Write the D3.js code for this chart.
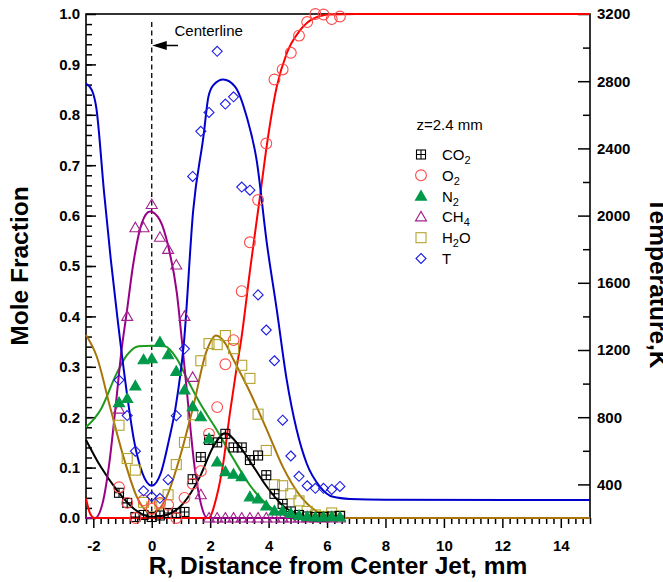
<!DOCTYPE html>
<html>
<head>
<meta charset="utf-8">
<script src="https://cdn.jsdelivr.net/npm/d3@7"></script>
<style>
body { margin: 0; background: #fff; }
svg { font-family: "Liberation Sans", Arial, sans-serif; }
.tick text { font-size: 15px; font-weight: bold; fill: #000; }
.tick line { stroke: #000; stroke-width: 1.5; }
.title { font-size: 24.5px; font-weight: bold; fill: #000; }
</style>
</head>
<body>
<svg id="chart" width="663" height="582"></svg>
<script>
// measured radial positions (mm)
var rPts = [-1.12, -0.84, -0.56, -0.28, 0, 0.28, 0.56, 0.84, 1.12, 1.40, 1.68, 1.96, 2.24, 2.52,
            2.80, 3.08, 3.36, 3.64, 3.92, 4.20, 4.48, 4.76, 5.04, 5.32, 5.60, 5.88, 6.16, 6.44];

// mole fractions
var co2 = [0.050, 0.030, 0.002, 0.006, 0.002, 0.005, 0.010, 0.010, 0.012, 0.077, 0.121, 0.155, 0.150, 0.167,
           0.140, 0.140, 0.115, 0.124, 0.085, 0.048, 0.028, 0.013, 0.006, 0.003, 0.002, 0.002, 0.003, 0.004];
var o2  = [0.061, 0.030, 0.000, 0.035, 0.018, 0.030, 0.026, 0.000, 0.040, 0.068, 0.093, 0.167, 0.220, 0.305,
           0.353, 0.450, 0.547, 0.631, 0.743, 0.870, 0.890, 0.923, 0.957, 0.984, 1.000, 0.999, 0.990, 0.995];
var n2  = [0.229, 0.237, 0.262, 0.314, 0.316, 0.349, 0.324, 0.291, 0.254, 0.221, 0.201, 0.157, 0.111, 0.092,
           0.087, 0.082, 0.042, 0.038, 0.024, 0.014, 0.014, 0.009, 0.005, 0.003, 0.002, 0.002, 0.003, 0.002];
var ch4 = [0.216, 0.400, 0.576, 0.576, 0.622, 0.557, 0.533, 0.502, 0.400, 0.279, 0.046, 0, 0, 0,
           0, 0, 0, 0, 0, 0, 0, 0, 0, 0, 0, 0, 0, 0];
var h2o = [0.184, 0.118, 0.095, 0.031, 0.022, 0.028, 0.046, 0.106, 0.150, 0.205, 0.312, 0.346, 0.344, 0.362,
           0.336, 0.303, 0.277, 0.206, 0.134, 0.066, 0.064, 0.048, 0.034, 0.013, 0.006, 0.003, 0.010, 0.004];
// temperature, K
var tempK = [1021, 810, 598, 362, 328, 317, 428, 809, 1207, 2233, 2502, 2614, 2978, 2664,
             2707, 2170, 2151, 1528, 1319, 1136, 782, 569, 448, 392, 377, 377, 370, 388];

// fitted curves [R, value]
var co2Fit = [[-2.25,0.155],[-1.75,0.102],[-1.2,0.056],[-0.6,0.018],[0,0.002],[0.5,0.006],[1.08,0.029],
  [1.65,0.082],[2.1,0.141],[2.51,0.168],[3.02,0.141],[3.48,0.102],[3.94,0.062],[4.5,0.024],[5.07,0.006],
  [5.76,0],[15,0]];
var o2Fit = [[-2.25,0.039],[-2.11,0.009],[-1.96,0],[1.94,0],[2.22,0.042],[2.45,0.11],[2.68,0.21],[2.91,0.30],
  [3.06,0.353],[3.36,0.49],[3.71,0.64],[3.94,0.74],[4.28,0.856],[4.62,0.922],[5.08,0.968],[5.53,0.991],
  [6.1,0.999],[7,1],[15,1]];
var n2Fit = [[-2.25,0.18],[-1.75,0.215],[-1.2,0.287],[-0.85,0.323],[-0.45,0.341],[0,0.342],[0.45,0.341],
  [0.86,0.316],[1.2,0.277],[1.65,0.228],[2.22,0.175],[2.79,0.118],[3.36,0.065],[3.94,0.027],[4.5,0.007],
  [5.07,0],[15,0]];
var ch4Fit = [[-2.25,0],[-1.94,0],[-1.68,0.03],[-1.45,0.11],[-1.22,0.23],[-1.03,0.335],[-0.86,0.406],
  [-0.63,0.505],[-0.34,0.585],[-0.06,0.608],[0.28,0.591],[0.57,0.538],[0.86,0.446],[1.03,0.353],
  [1.22,0.241],[1.45,0.109],[1.68,0.029],[1.9,0],[15,0]];
var h2oFit = [[-2.25,0.363],[-1.88,0.32],[-1.43,0.221],[-0.97,0.122],[-0.51,0.042],[0,0.009],[0.51,0.042],
  [0.97,0.122],[1.42,0.221],[1.87,0.33],[2.2,0.362],[2.5,0.348],[2.79,0.315],[3.36,0.25],[3.94,0.175],
  [4.5,0.10],[5.07,0.045],[5.65,0.013],[6.2,0.002],[6.8,0],[15,0]];
var tFit = [[-2.25,2786],[-2.05,2747],[-1.9,2645],[-1.63,2135],[-1.4,1736],[-1.18,1400],[-0.835,923],
  [-0.61,665],[-0.32,467],[0,392],[0.31,467],[0.59,665],[0.82,863],[1.1,1241],[1.42,2033],[1.77,2471],
  [1.94,2708],[2.11,2777],[2.45,2810],[2.85,2768],[3.25,2588],[3.59,2330],[3.94,1835],[4.28,1439],
  [4.62,1022],[4.96,725],[5.30,526],[5.76,386],[6.21,326],[6.79,313],[8,308],[15,307]];

var xTicks = [-2, 0, 2, 4, 6, 8, 10, 12, 14];
var yTicks = [0, 0.1, 0.2, 0.3, 0.4, 0.5, 0.6, 0.7, 0.8, 0.9, 1.0];
var tTicks = [400, 800, 1200, 1600, 2000, 2400, 2800, 3200];

var svg = d3.select("#chart");
var pLeft = 86, pRight = 590, pTop = 14, pBottom = 518;

var x = d3.scaleLinear().domain([-2.25, 15]).range([pLeft, pRight]);
var y = d3.scaleLinear().domain([0, 1]).range([pBottom, pTop]);
var yT = d3.scaleLinear().domain([200, 3200]).range([pBottom, pTop]);

function noDomain(g) { g.select(".domain").remove(); }

// bottom axis, ticks outward
var xMinor = d3.range(-2.25, 15.001, 0.25).filter(function(v) { return Math.abs(v / 2 - Math.round(v / 2)) > 1e-6; });
svg.append("g").attr("transform", "translate(0," + pBottom + ")")
    .call(d3.axisBottom(x).tickValues(xMinor).tickSize(6).tickFormat(""))
    .call(noDomain);
svg.append("g").attr("transform", "translate(0," + pBottom + ")")
    .call(d3.axisBottom(x).tickValues(xTicks).tickSize(10).tickPadding(12).tickFormat(function(d) { return String(d); }))
    .call(noDomain);

// left axis, ticks inward
svg.append("g").attr("transform", "translate(" + pLeft + ",0)")
    .call(d3.axisLeft(y).tickValues(d3.range(0.02, 1, 0.02)).tickSize(-6).tickFormat(""))
    .call(noDomain);
svg.append("g").attr("transform", "translate(" + pLeft + ",0)")
    .call(d3.axisLeft(y).tickValues(yTicks).tickSize(-10).tickPadding(6).tickFormat(d3.format(".1f")))
    .call(noDomain);

// right axis (temperature), ticks inward
svg.append("g").attr("transform", "translate(" + pRight + ",0)")
    .call(d3.axisRight(yT).tickValues(d3.range(600, 3200, 400)).tickSize(-7).tickFormat(""))
    .call(noDomain);
svg.append("g").attr("transform", "translate(" + pRight + ",0)")
    .call(d3.axisRight(yT).tickValues(tTicks).tickSize(-12).tickPadding(7).tickFormat(function(d) { return String(d); }))
    .call(noDomain);

// frame
svg.append("rect").attr("x", pLeft).attr("y", pTop).attr("width", pRight - pLeft).attr("height", pBottom - pTop)
    .attr("fill", "none").attr("stroke", "#000").attr("stroke-width", 1.6);

// axis titles
svg.append("text").attr("class", "title").attr("text-anchor", "middle")
    .attr("transform", "translate(28,266) rotate(-90)").text("Mole Fraction");
svg.append("text").attr("class", "title").attr("text-anchor", "middle")
    .attr("transform", "translate(650,283) rotate(90)").text("Temperature,K");
svg.append("text").attr("class", "title").attr("text-anchor", "middle")
    .attr("x", 338).attr("y", 574).text("R, Distance from Center Jet, mm");

// centerline
svg.append("line").attr("x1", x(0)).attr("x2", x(0)).attr("y1", 22).attr("y2", pBottom)
    .attr("stroke", "#000").attr("stroke-width", 1.3).attr("stroke-dasharray", "5,3.5");
svg.append("line").attr("x1", x(0) + 12).attr("x2", 178).attr("y1", 45.5).attr("y2", 45.5)
    .attr("stroke", "#000").attr("stroke-width", 1.5);
svg.append("path").attr("d", "M" + (x(0) + 0.5) + ",45.5 L" + (x(0) + 15) + ",41 L" + (x(0) + 15) + ",50 Z")
    .attr("fill", "#000");
svg.append("text").attr("x", 174.5).attr("y", 35.5).attr("font-size", 15).text("Centerline");

// fitted lines
var line = d3.line().x(function(d) { return x(d[0]); }).y(function(d) { return y(d[1]); }).curve(d3.curveMonotoneX);
var lineT = d3.line().x(function(d) { return x(d[0]); }).y(function(d) { return yT(d[1]); }).curve(d3.curveMonotoneX);

function drawLine(data, gen, color) {
  svg.append("path").datum(data).attr("d", gen)
      .attr("fill", "none").attr("stroke", color).attr("stroke-width", 2);
}
drawLine(co2Fit, line, "#000000");
drawLine(n2Fit, line, "#1c9a1c");
drawLine(ch4Fit, line, "#990088");
drawLine(o2Fit, line, "#ff0000");
drawLine(h2oFit, line, "#a8740a");
drawLine(tFit, lineT, "#0000cc");

// markers
function marker(g, kind, color) {
  if (kind === "cross") {
    g.append("rect").attr("x", -4.5).attr("y", -4.5).attr("width", 9).attr("height", 9)
        .attr("fill", "none").attr("stroke", color).attr("stroke-width", 1.1);
    g.append("path").attr("d", "M0,-4.5V4.5M-4.5,0H4.5").attr("stroke", color).attr("stroke-width", 1.1);
  } else if (kind === "circle") {
    g.append("circle").attr("r", 5.4).attr("fill", "none").attr("stroke", color).attr("stroke-width", 1.1);
  } else if (kind === "tri" || kind === "triFill") {
    g.append("path").attr("d", "M0,-5.5L5.5,4L-5.5,4Z")
        .attr("fill", kind === "triFill" ? color : "none").attr("stroke", color).attr("stroke-width", 1.1);
  } else if (kind === "square") {
    g.append("rect").attr("x", -5).attr("y", -5).attr("width", 10).attr("height", 10)
        .attr("fill", "none").attr("stroke", color).attr("stroke-width", 1.1);
  } else if (kind === "diamond") {
    g.append("path").attr("d", "M0,-5L5,0L0,5L-5,0Z").attr("fill", "none").attr("stroke", color).attr("stroke-width", 1.1);
  }
}

function drawMarkers(values, scale, kind, color) {
  svg.append("g").selectAll("g").data(values).join("g")
      .attr("transform", function(d, i) { return "translate(" + x(rPts[i]) + "," + scale(d) + ")"; })
      .each(function() { marker(d3.select(this), kind, color); });
}
drawMarkers(h2o, y, "square", "#b3a42c");
drawMarkers(co2, y, "cross", "#000000");
drawMarkers(o2, y, "circle", "#ff4a4a");
drawMarkers(ch4, y, "tri", "#a3208f");
drawMarkers(n2, y, "triFill", "#00994a");
drawMarkers(tempK, yT, "diamond", "#1c1ce6");

// legend
var legendNames = [["CO", "2", ""], ["O", "2", ""], ["N", "2", ""], ["CH", "4", ""], ["H", "2", "O"], ["T", "", ""]];
var legendKinds = [["cross", "#000000"], ["circle", "#ff4a4a"], ["triFill", "#00994a"],
                   ["tri", "#a3208f"], ["square", "#b3a42c"], ["diamond", "#1c1ce6"]];

svg.append("text").attr("x", 416.5).attr("y", 130).attr("font-size", 15).text("z=2.4 mm");
legendNames.forEach(function(n, i) {
  var cy = 154.5 + i * 20.8;
  var g = svg.append("g").attr("transform", "translate(421," + cy + ")");
  marker(g, legendKinds[i][0], legendKinds[i][1]);
  var t = svg.append("text").attr("x", 442).attr("y", cy + 5.5).attr("font-size", 15);
  t.append("tspan").text(n[0]);
  if (n[1]) t.append("tspan").attr("dy", 4).attr("font-size", 11).text(n[1]);
  if (n[2]) t.append("tspan").attr("dy", -4).text(n[2]);
});
</script>
</body>
</html>
